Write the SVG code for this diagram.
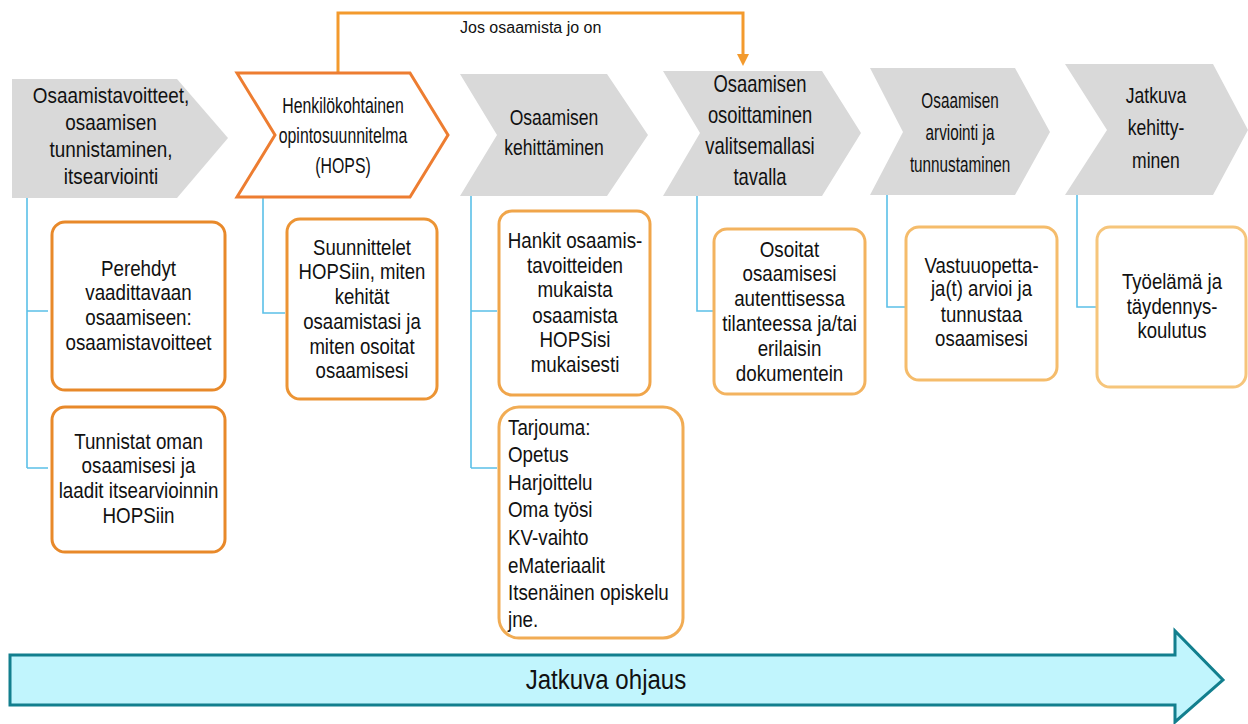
<svg xmlns="http://www.w3.org/2000/svg" width="1248" height="724" viewBox="0 0 1248 724">
<defs>
<marker id="ah" viewBox="0 0 12 12" refX="0" refY="6" markerWidth="12" markerHeight="12" markerUnits="userSpaceOnUse" orient="auto">
<path d="M0,0 L12,6 L0,12 Z" fill="#F39A2D"/>
</marker>
<style>
.chev{fill:#D9D9D9;}
.hops{fill:#FFFFFF;stroke:#ED7D31;stroke-width:3;stroke-linejoin:miter;}
.box{fill:#FFFFFF;stroke-width:3;}
.t{font-family:"Liberation Sans",Arial,sans-serif;fill:#111111;text-anchor:middle;}
.tl{font-family:"Liberation Sans",Arial,sans-serif;fill:#111111;text-anchor:start;}
.conn{fill:none;stroke:#5BC0E8;stroke-width:1.6;}
.orange{fill:none;stroke:#F39A2D;stroke-width:3;}
</style>
</defs>
<rect width="1248" height="724" fill="#FFFFFF"/>

<g id="connectors">
<path class="conn" d="M27,198 V468 M27,311 H48 M27,468 H48"/>
<path class="conn" d="M263,197 V313 H285"/>
<path class="conn" d="M471,196 V468 M471,311 H497 M471,468 H497"/>
<path class="conn" d="M697,196 V311 H714"/>
<path class="conn" d="M887,195 V307 H906"/>
<path class="conn" d="M1077,195 V307 H1097"/>
<path class="orange" d="M338,72 V13 H743 V54" marker-end="url(#ah)"/>
</g>

<g id="label-jos">
<text class="tl" x="460" y="33" font-size="16">Jos osaamista jo on</text>
</g>

<g id="step1">
<polygon class="chev" points="12,79 177,79 228,138 177,198 12,198"/>
<g transform="translate(111,0) scale(0.84,1)" font-size="22.5">
<text class="t" x="0" y="103">Osaamistavoitteet,</text>
<text class="t" x="0" y="130">osaamisen</text>
<text class="t" x="0" y="157">tunnistaminen,</text>
<text class="t" x="0" y="184">itsearviointi</text>
</g>
</g>

<g id="step2">
<polygon class="hops" points="237,73 410,73 448,135 410,197 237,197 275,135"/>
<g transform="translate(343,0) scale(0.72,1)" font-size="22">
<text class="t" x="0" y="113">Henkilökohtainen</text>
<text class="t" x="0" y="143">opintosuunnitelma</text>
<text class="t" x="0" y="173">(HOPS)</text>
</g>
</g>

<g id="step3">
<polygon class="chev" points="460,74 607,74 648,135 607,196 460,196 497,135"/>
<g transform="translate(554,0) scale(0.78,1)" font-size="22.5">
<text class="t" x="0" y="125">Osaamisen</text>
<text class="t" x="0" y="155">kehittäminen</text>
</g>
</g>

<g id="step4">
<polygon class="chev" points="663,71 822,71 861,133 822,196 663,196 700,133"/>
<g transform="translate(760,0) scale(0.8,1)" font-size="23">
<text class="t" x="0" y="92">Osaamisen</text>
<text class="t" x="0" y="123">osoittaminen</text>
<text class="t" x="0" y="154">valitsemallasi</text>
<text class="t" x="0" y="185">tavalla</text>
</g>
</g>

<g id="step5">
<polygon class="chev" points="870,68 1015,68 1050,132 1015,195 870,195 903,132"/>
<g transform="translate(960,0) scale(0.68,1)" font-size="22.5">
<text class="t" x="0" y="108">Osaamisen</text>
<text class="t" x="0" y="140">arviointi ja</text>
<text class="t" x="0" y="172">tunnustaminen</text>
</g>
</g>

<g id="step6">
<polygon class="chev" points="1065,64 1213,64 1248,130 1213,195 1065,195 1107,130"/>
<g transform="translate(1156,0) scale(0.78,1)" font-size="22.5">
<text class="t" x="0" y="103">Jatkuva</text>
<text class="t" x="0" y="135">kehitty-</text>
<text class="t" x="0" y="168">minen</text>
</g>
</g>

<g id="box-perehdyt">
<rect class="box" x="52" y="222" width="173" height="168" rx="13" stroke="#E8892A"/>
<g transform="translate(138.5,0) scale(0.835,1)" font-size="22.5">
<text class="t" x="0" y="276">Perehdyt</text>
<text class="t" x="0" y="300">vaadittavaan</text>
<text class="t" x="0" y="325">osaamiseen:</text>
<text class="t" x="0" y="350">osaamistavoitteet</text>
</g>
</g>

<g id="box-tunnistat">
<rect class="box" x="52" y="407" width="173" height="145" rx="13" stroke="#E8892A"/>
<g transform="translate(138.5,0) scale(0.835,1)" font-size="22.5">
<text class="t" x="0" y="449">Tunnistat oman</text>
<text class="t" x="0" y="473">osaamisesi ja</text>
<text class="t" x="0" y="498">laadit itsearvioinnin</text>
<text class="t" x="0" y="523">HOPSiin</text>
</g>
</g>

<g id="box-suunnittelet">
<rect class="box" x="287" y="219" width="150" height="180" rx="13" stroke="#EC9434"/>
<g transform="translate(362,0) scale(0.825,1)" font-size="22.5">
<text class="t" x="0" y="255">Suunnittelet</text>
<text class="t" x="0" y="279">HOPSiin, miten</text>
<text class="t" x="0" y="304">kehität</text>
<text class="t" x="0" y="329">osaamistasi ja</text>
<text class="t" x="0" y="354">miten osoitat</text>
<text class="t" x="0" y="378">osaamisesi</text>
</g>
</g>

<g id="box-hankit">
<rect class="box" x="499" y="211" width="151" height="184" rx="13" stroke="#F0A54A"/>
<g transform="translate(575,0) scale(0.835,1)" font-size="22.5">
<text class="t" x="0" y="248">Hankit osaamis-</text>
<text class="t" x="0" y="273">tavoitteiden</text>
<text class="t" x="0" y="297">mukaista</text>
<text class="t" x="0" y="323">osaamista</text>
<text class="t" x="0" y="347">HOPSisi</text>
<text class="t" x="0" y="372">mukaisesti</text>
</g>
</g>

<g id="box-tarjouma">
<rect class="box" x="499" y="407" width="184" height="231" rx="20" stroke="#F1AC54"/>
<g transform="translate(508,0) scale(0.835,1)" font-size="22.5">
<text class="tl" x="0" y="435">Tarjouma:</text>
<text class="tl" x="0" y="462">Opetus</text>
<text class="tl" x="0" y="490">Harjoittelu</text>
<text class="tl" x="0" y="517">Oma työsi</text>
<text class="tl" x="0" y="545">KV-vaihto</text>
<text class="tl" x="0" y="573">eMateriaalit</text>
<text class="tl" x="0" y="600">Itsenäinen opiskelu</text>
<text class="tl" x="0" y="627">jne.</text>
</g>
</g>

<g id="box-osoitat">
<rect class="box" x="714" y="229" width="151" height="165" rx="13" stroke="#F3B35F"/>
<g transform="translate(789.5,0) scale(0.835,1)" font-size="22.5">
<text class="t" x="0" y="257">Osoitat</text>
<text class="t" x="0" y="281">osaamisesi</text>
<text class="t" x="0" y="306">autenttisessa</text>
<text class="t" x="0" y="331">tilanteessa ja/tai</text>
<text class="t" x="0" y="356">erilaisin</text>
<text class="t" x="0" y="381">dokumentein</text>
</g>
</g>

<g id="box-vastuu">
<rect class="box" x="906" y="227" width="151" height="153" rx="13" stroke="#F5BC6B"/>
<g transform="translate(981.5,0) scale(0.825,1)" font-size="22.5">
<text class="t" x="0" y="273">Vastuuopetta-</text>
<text class="t" x="0" y="296">ja(t) arvioi ja</text>
<text class="t" x="0" y="322">tunnustaa</text>
<text class="t" x="0" y="346">osaamisesi</text>
</g>
</g>

<g id="box-tyoelama">
<rect class="box" x="1097" y="227" width="149" height="160" rx="13" stroke="#F6C57B"/>
<g transform="translate(1172,0) scale(0.825,1)" font-size="22.5">
<text class="t" x="0" y="289">Työelämä ja</text>
<text class="t" x="0" y="314">täydennys-</text>
<text class="t" x="0" y="338">koulutus</text>
</g>
</g>

<g id="ohjaus">
<polygon points="10,655 1175,655 1175,631 1223,680 1175,722 1175,705 10,705" fill="#C1F5FD" stroke="#127F8E" stroke-width="3"/>
<g transform="translate(606,0) scale(0.86,1)" font-size="28">
<text class="t" x="0" y="689">Jatkuva ohjaus</text>
</g>
</g>
</svg>
